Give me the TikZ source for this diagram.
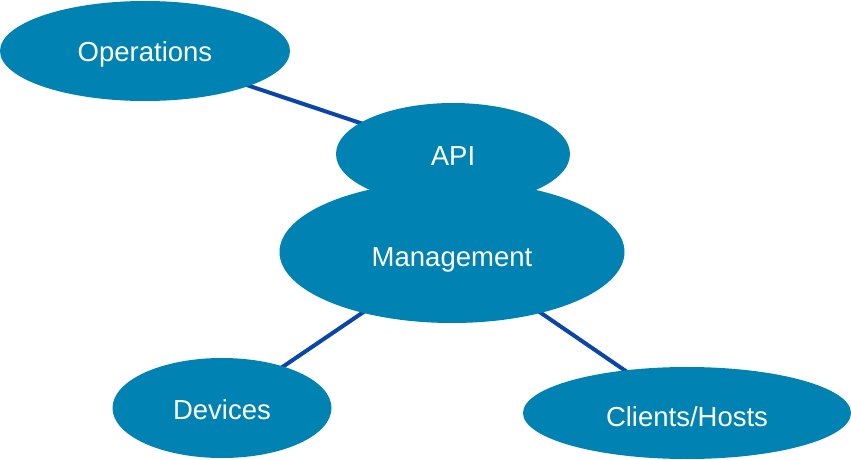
\documentclass[tikz,border=0pt]{standalone}
\usepackage{fontspec}
\setmainfont{Liberation Sans}
\usetikzlibrary{shapes.geometric,backgrounds}
\definecolor{ellfill}{HTML}{0082B2}
\definecolor{linkcol}{HTML}{0A45AA}
\tikzset{
  blob/.style={ellipse, fill=ellfill, inner sep=0pt},
  lbl/.style={text=white, inner sep=0pt, text height=20pt, text depth=0pt,
              font=\fontsize{27.5}{30}\selectfont},
  link/.style={draw=linkcol, line width=4pt}
}
\begin{document}
\begin{tikzpicture}[x=1pt,y=-1pt]
\useasboundingbox (0,0) rectangle (851,460);
\node[blob, minimum width=290, minimum height=100,
      label={[lbl, yshift=-1pt]center:Operations}] (ops) at (145,51) {};
\node[blob, minimum width=234, minimum height=102,
      label={[lbl, yshift=-1pt]center:API}] (api) at (453,154) {};
\node[blob, minimum width=345, minimum height=142,
      label={[lbl, yshift=-4.5pt]center:Management}] (mgmt) at (452,252) {};
\node[blob, minimum width=219, minimum height=100,
      label={[lbl, yshift=-1.5pt]center:Devices}] (dev) at (222,408) {};
\node[blob, minimum width=328, minimum height=92,
      label={[lbl, yshift=-3pt]center:Clients/Hosts}] (cli) at (687,413) {};
\begin{scope}[on background layer]
\draw[link] (ops.center) -- (api.center);
\draw[link] (mgmt.center) -- (dev.center);
\draw[link] (mgmt.center) -- (cli.center);
\end{scope}
\end{tikzpicture}
\end{document}
